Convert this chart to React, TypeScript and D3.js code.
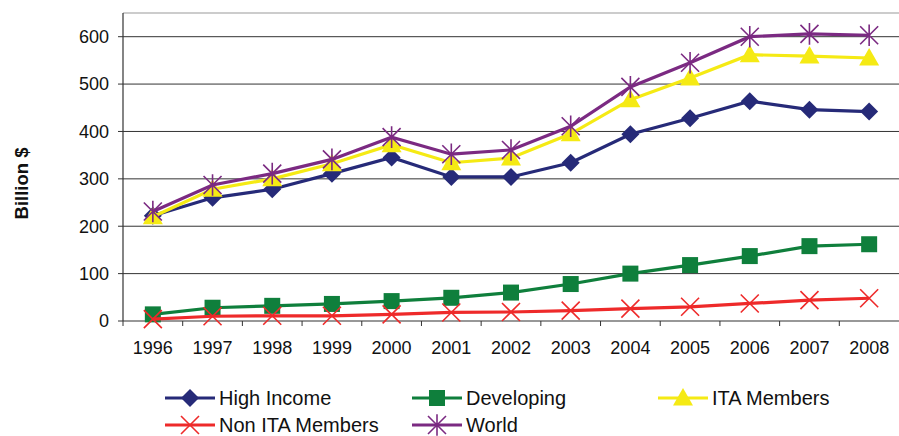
import React from "react";
import * as d3 from "d3";

const years = ["1996","1997","1998","1999","2000","2001","2002","2003","2004","2005","2006","2007","2008"];
const highIncome = [222, 260, 278, 311, 345, 304, 304, 334, 394, 428, 464, 446, 442];
const developing = [14, 28, 32, 36, 42, 49, 60, 78, 100, 118, 137, 158, 162];
const itaMembers = [220, 278, 300, 332, 372, 334, 344, 395, 467, 513, 562, 559, 555];
const nonIta = [4, 10, 11, 11, 14, 18, 19, 22, 26, 30, 37, 44, 48];
const world = [231, 287, 311, 341, 388, 352, 361, 411, 494, 545, 600, 606, 603];
const yTicks = [0, 100, 200, 300, 400, 500, 600];

const series = [
  { name: "High Income", values: highIncome, color: "#262a78", marker: "diamond" },
  { name: "Developing", values: developing, color: "#0f7f3c", marker: "square" },
  { name: "ITA Members", values: itaMembers, color: "#f5ea14", marker: "triangle" },
  { name: "Non ITA Members", values: nonIta, color: "#ee2a2a", marker: "x" },
  { name: "World", values: world, color: "#7b2a82", marker: "star" },
];

const drawOrder = [1, 3, 0, 2, 4];

function Marker({ type, x, y, color }: { type: string; x: number; y: number; color: string }) {
  if (type === "diamond") {
    const s = 9;
    return <path d={`M${x},${y - s}L${x + s},${y}L${x},${y + s}L${x - s},${y}Z`} fill={color} />;
  }
  if (type === "square") {
    const s = 8;
    return <rect x={x - s} y={y - s} width={2 * s} height={2 * s} fill={color} />;
  }
  if (type === "triangle") {
    const s = 10;
    return <path d={`M${x},${y - s}L${x + s},${y + s * 0.75}L${x - s},${y + s * 0.75}Z`} fill={color} />;
  }
  if (type === "x") {
    const s = 9;
    return (
      <path d={`M${x - s},${y - s}L${x + s},${y + s}M${x + s},${y - s}L${x - s},${y + s}`} stroke={color} strokeWidth={1.6} fill="none" />
    );
  }
  const s = 9;
  return (
    <path
      d={`M${x - s},${y - s}L${x + s},${y + s}M${x + s},${y - s}L${x - s},${y + s}M${x},${y - s * 1.2}L${x},${y + s * 1.2}`}
      stroke={color}
      strokeWidth={1.6}
      fill="none"
    />
  );
}

export default function App() {
  const W = 899, H = 436;
  const left = 123, right = 899, top = 13, bottom = 321;
  const x = d3.scaleBand<string>().domain(years).range([left, right]);
  const y = d3.scaleLinear().domain([0, 650]).range([bottom, top]);
  const cx = (yr: string) => (x(yr) as number) + x.bandwidth() / 2;
  const line = d3
    .line<number>()
    .x((_, i) => cx(years[i]))
    .y((v) => y(v));

  const legend = [
    { s: 0, lx: 165, ly: 398 },
    { s: 1, lx: 412, ly: 398 },
    { s: 2, lx: 658, ly: 398 },
    { s: 3, lx: 165, ly: 425 },
    { s: 4, lx: 412, ly: 425 },
  ];

  return (
    <svg width={W} height={H} style={{ position: "absolute", left: 0, top: 0, fontFamily: "Liberation Sans, Arial, sans-serif" }}>
      <rect width={W} height={H} fill="#fff" />
      {/* grid */}
      <line x1={left} x2={right} y1={y(650)} y2={y(650)} stroke="#999" strokeWidth={1.2} />
      {yTicks.filter((t) => t > 0).map((t) => (
        <line key={t} x1={left} x2={right} y1={y(t)} y2={y(t)} stroke="#333" strokeWidth={1} />
      ))}
      {/* axes */}
      <line x1={left} x2={left} y1={top} y2={bottom} stroke="#333" strokeWidth={1.2} />
      <line x1={left} x2={right} y1={bottom} y2={bottom} stroke="#333" strokeWidth={1.2} />
      {yTicks.map((t) => (
        <g key={t}>
          <line x1={left - 5} x2={left} y1={y(t)} y2={y(t)} stroke="#333" />
          <text x={109} y={y(t)} dy="0.35em" textAnchor="end" fontSize={18} fill="#111">
            {t}
          </text>
        </g>
      ))}
      {years.map((yr) => (
        <g key={yr}>
          <line x1={x(yr) as number} x2={x(yr) as number} y1={bottom} y2={bottom + 5} stroke="#333" />
          <text x={cx(yr)} y={354} textAnchor="middle" fontSize={18} fill="#111">
            {yr}
          </text>
        </g>
      ))}
      <text
        transform={`translate(28,183.5) rotate(-90)`}
        textAnchor="middle"
        fontSize={18.5}
        fontWeight="bold"
        fill="#111"
      >
        Billion $
      </text>
      {/* series */}
      {drawOrder.map((si) => {
        const s = series[si];
        return (
          <g key={s.name}>
            <path d={line(s.values) || ""} fill="none" stroke={s.color} strokeWidth={3.2} />
            {s.values.map((v, i) => (
              <Marker key={i} type={s.marker} x={cx(years[i])} y={y(v)} color={s.color} />
            ))}
          </g>
        );
      })}
      {/* legend */}
      {legend.map(({ s, lx, ly }) => {
        const ser = series[s];
        return (
          <g key={ser.name}>
            <line x1={lx} x2={lx + 50} y1={ly} y2={ly} stroke={ser.color} strokeWidth={3.2} />
            <Marker type={ser.marker} x={lx + 25} y={ly} color={ser.color} />
            <text x={lx + 54} y={ly} dy="0.35em" fontSize={20} fill="#111">
              {ser.name}
            </text>
          </g>
        );
      })}
    </svg>
  );
}
